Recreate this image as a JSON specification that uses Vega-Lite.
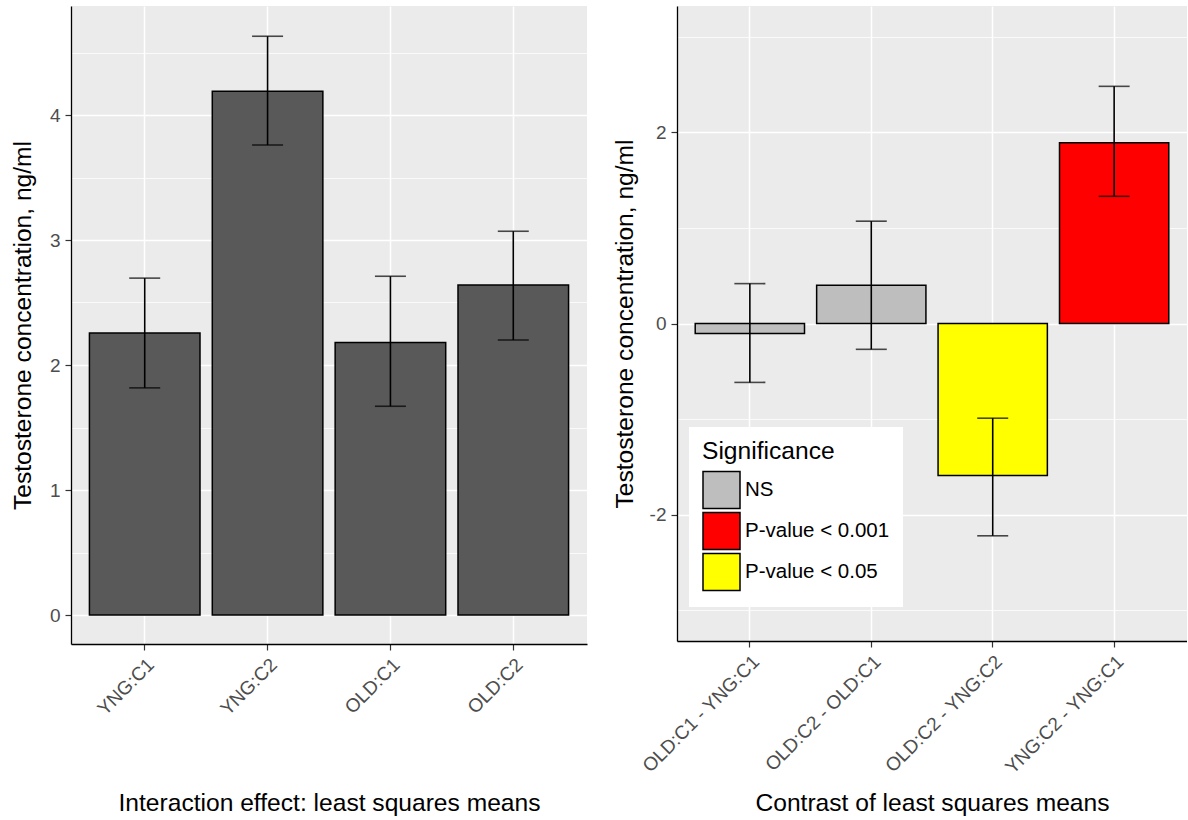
{
  "$schema": "https://vega.github.io/schema/vega-lite/v6.json",
  "background": "white",
  "padding": {"left": 10, "top": 6, "right": 0, "bottom": 0},
  "spacing": 25,
  "config": {
    "font": "Liberation Sans",
    "view": {"fill": "#EBEBEB", "stroke": null},
    "axis": {
      "labelFont": "Liberation Sans",
      "labelFontSize": 19,
      "labelColor": "#4D4D4D",
      "titleFont": "Liberation Sans",
      "titleFontSize": 24.6,
      "titleColor": "black",
      "titleFontWeight": "normal",
      "domainColor": "black",
      "domainWidth": 1.3,
      "tickColor": "#333333",
      "tickSize": 6,
      "tickWidth": 1.2,
      "gridColor": "white",
      "labelPadding": 5
    }
  },
  "datasets": {
    "lsmeans": [
      {"group": "YNG:C1", "mean": 2.256, "lower": 1.817, "upper": 2.695},
      {"group": "YNG:C2", "mean": 4.19, "lower": 3.76, "upper": 4.63},
      {"group": "OLD:C1", "mean": 2.18, "lower": 1.67, "upper": 2.71},
      {"group": "OLD:C2", "mean": 2.64, "lower": 2.2, "upper": 3.07}
    ],
    "contrasts": [
      {"contrast": "OLD:C1 - YNG:C1", "estimate": -0.104, "lower": -0.616, "upper": 0.417, "sig": "NS"},
      {"contrast": "OLD:C2 - OLD:C1", "estimate": 0.4, "lower": -0.27, "upper": 1.07, "sig": "NS"},
      {"contrast": "OLD:C2 - YNG:C2", "estimate": -1.59, "lower": -2.22, "upper": -0.99, "sig": "P-value < 0.05"},
      {"contrast": "YNG:C2 - YNG:C1", "estimate": 1.89, "lower": 1.33, "upper": 2.48, "sig": "P-value < 0.001"}
    ]
  },
  "hconcat": [
    {
      "width": 516,
      "height": 638,
      "data": {"name": "lsmeans"},
      "encoding": {
        "x": {
          "field": "group",
          "type": "nominal",
          "sort": null,
          "scale": {"paddingInner": 0.1, "paddingOuter": 0.15},
          "axis": {
            "title": "Interaction effect: least squares means",
            "labelAngle": -45,
            "labelAlign": "right",
            "labelBaseline": "top",
            "bandPosition": 0.5,
            "grid": true,
            "gridWidth": 1.5,
            "titlePadding": 73
          }
        }
      },
      "layer": [
        {
          "mark": {"type": "bar", "fill": "#595959", "stroke": "black", "strokeWidth": 1.5},
          "encoding": {
            "y": {
              "field": "mean",
              "type": "quantitative",
              "scale": {"domain": [-0.232, 4.872], "nice": false, "zero": false},
              "axis": {
                "title": "Testosterone concentration, ng/ml",
                "values": [0, 0.5, 1, 1.5, 2, 2.5, 3, 3.5, 4, 4.5],
                "labelExpr": "datum.value % 1 === 0 ? toString(datum.value) : ''",
                "tickOpacity": {"condition": {"test": "datum.value % 1 === 0", "value": 1}, "value": 0},
                "gridWidth": {"condition": {"test": "datum.value % 1 === 0", "value": 1.5}, "value": 0.75},
                "titlePadding": 14
              }
            },
            "y2": {"datum": 0}
          }
        },
        {
          "mark": {"type": "rule", "color": "black", "strokeWidth": 1.6},
          "encoding": {
            "y": {"field": "lower", "type": "quantitative"},
            "y2": {"field": "upper"}
          }
        },
        {
          "mark": {"type": "tick", "color": "black", "size": 31, "thickness": 1.6, "orient": "horizontal"},
          "encoding": {"y": {"field": "lower", "type": "quantitative"}}
        },
        {
          "mark": {"type": "tick", "color": "black", "size": 31, "thickness": 1.6, "orient": "horizontal"},
          "encoding": {"y": {"field": "upper", "type": "quantitative"}}
        }
      ]
    },
    {
      "width": 510,
      "height": 635,
      "data": {"name": "contrasts"},
      "encoding": {
        "x": {
          "field": "contrast",
          "type": "nominal",
          "sort": null,
          "scale": {"paddingInner": 0.1, "paddingOuter": 0.15},
          "axis": {
            "title": "Contrast of least squares means",
            "labelAngle": -45,
            "labelAlign": "right",
            "labelBaseline": "top",
            "bandPosition": 0.5,
            "grid": true,
            "gridWidth": 1.5,
            "titlePadding": 14
          }
        }
      },
      "layer": [
        {
          "mark": {"type": "bar", "stroke": "black", "strokeWidth": 1.5},
          "encoding": {
            "y": {
              "field": "estimate",
              "type": "quantitative",
              "scale": {"domain": [-3.32, 3.32], "nice": false, "zero": false},
              "axis": {
                "title": "Testosterone concentration, ng/ml",
                "values": [-3, -2, -1, 0, 1, 2, 3],
                "labelExpr": "datum.value % 2 === 0 ? toString(datum.value) : ''",
                "tickOpacity": {"condition": {"test": "datum.value % 2 === 0", "value": 1}, "value": 0},
                "gridWidth": {"condition": {"test": "datum.value % 2 === 0", "value": 1.5}, "value": 0.75},
                "titlePadding": 11.5
              }
            },
            "y2": {"datum": 0},
            "fill": {
              "field": "sig",
              "type": "nominal",
              "scale": {
                "domain": ["NS", "P-value < 0.001", "P-value < 0.05"],
                "range": ["#BEBEBE", "#FF0000", "#FFFF00"]
              },
              "legend": {
                "title": "Significance",
                "orient": "none",
                "legendX": 618,
                "legendY": 421,
                "fillColor": "white",
                "padding": 13,
                "symbolType": "square",
                "symbolSize": 1369,
                "symbolStrokeColor": "black",
                "symbolStrokeWidth": 1.5,
                "symbolOpacity": 1,
                "labelFont": "Liberation Sans",
                "labelFontSize": 20.5,
                "labelColor": "black",
                "labelOffset": 4,
                "titleFont": "Liberation Sans",
                "titleFontSize": 24.6,
                "titleFontWeight": "normal",
                "titleColor": "black",
                "titlePadding": 6,
                "rowPadding": -6
              }
            }
          }
        },
        {
          "mark": {"type": "rule", "color": "black", "strokeWidth": 1.6},
          "encoding": {
            "y": {"field": "lower", "type": "quantitative"},
            "y2": {"field": "upper"}
          }
        },
        {
          "mark": {"type": "tick", "color": "black", "size": 31, "thickness": 1.6, "orient": "horizontal"},
          "encoding": {"y": {"field": "lower", "type": "quantitative"}}
        },
        {
          "mark": {"type": "tick", "color": "black", "size": 31, "thickness": 1.6, "orient": "horizontal"},
          "encoding": {"y": {"field": "upper", "type": "quantitative"}}
        }
      ]
    }
  ]
}
